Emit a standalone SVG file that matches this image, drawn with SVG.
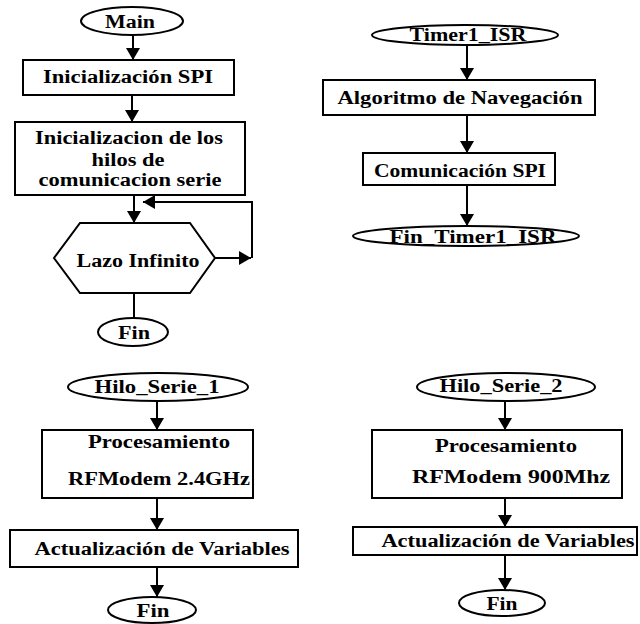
<svg xmlns="http://www.w3.org/2000/svg" width="640" height="624" viewBox="0 0 640 624" font-family="Liberation Serif, Times New Roman, serif">
  <defs>
    <marker id="arrow" markerUnits="userSpaceOnUse" markerWidth="12" markerHeight="14" viewBox="0 0 12 14" refX="12" refY="7" orient="auto">
      <path d="M0,0 L12,7 L0,14 Z" fill="#000"/>
    </marker>
  </defs>
  <style>
    .shape { fill: #fff; stroke: #000; stroke-width: 2; }
    .label { font-weight: 700; font-size: 18.5px; fill: #000; text-anchor: middle; }
    .edge { fill: none; stroke: #000; stroke-width: 2; }
    .edge.arr { marker-end: url(#arrow); }
  </style>
  <rect width="640" height="624" fill="#fff"/>

  <!-- Main flow -->
  <g id="main-start">
    <ellipse class="shape" cx="132" cy="21" rx="51" ry="14"/>
    <text class="label" x="130" y="28" textLength="50" lengthAdjust="spacingAndGlyphs">Main</text>
  </g>
  <g id="init-spi">
    <rect class="shape" x="23" y="60" width="211" height="35"/>
    <text class="label" x="128" y="83" textLength="170" lengthAdjust="spacingAndGlyphs">Inicialización SPI</text>
  </g>
  <g id="init-threads">
    <rect class="shape" x="15" y="122" width="230" height="73"/>
    <text class="label" x="129" y="144" textLength="188" lengthAdjust="spacingAndGlyphs">Inicializacion de los</text>
    <text class="label" x="128" y="166" textLength="73" lengthAdjust="spacingAndGlyphs">hilos de</text>
    <text class="label" x="130" y="186" textLength="183" lengthAdjust="spacingAndGlyphs">comunicacion serie</text>
  </g>
  <g id="loop">
    <polygon class="shape" points="80,223 190,223 215,258 190,293 80,293 54,258"/>
    <text class="label" x="138" y="267" textLength="123" lengthAdjust="spacingAndGlyphs">Lazo Infinito</text>
  </g>
  <g id="main-end">
    <ellipse class="shape" cx="133" cy="332" rx="35" ry="14"/>
    <text class="label" x="134" y="339" textLength="32" lengthAdjust="spacingAndGlyphs">Fin</text>
  </g>

  <!-- Timer interrupt flow -->
  <g id="timer-start">
    <ellipse class="shape" cx="465" cy="35" rx="93" ry="10"/>
    <text class="label" x="468" y="41" textLength="117" lengthAdjust="spacingAndGlyphs">Timer1_ISR</text>
  </g>
  <g id="navigation">
    <rect class="shape" x="323" y="80" width="272" height="35"/>
    <text class="label" x="460" y="104" textLength="245" lengthAdjust="spacingAndGlyphs">Algoritmo de Navegación</text>
  </g>
  <g id="spi-comm">
    <rect class="shape" x="363" y="153" width="192" height="32"/>
    <text class="label" x="460" y="177" textLength="172" lengthAdjust="spacingAndGlyphs">Comunicación SPI</text>
  </g>
  <g id="timer-end">
    <ellipse class="shape" cx="466" cy="236" rx="113" ry="10"/>
    <text class="label" x="473" y="243" textLength="167" lengthAdjust="spacingAndGlyphs">Fin_Timer1_ISR</text>
  </g>

  <!-- Serial thread 1 -->
  <g id="thread1-start">
    <ellipse class="shape" cx="158" cy="387" rx="90" ry="14"/>
    <text class="label" x="157" y="393" textLength="125" lengthAdjust="spacingAndGlyphs">Hilo_Serie_1</text>
  </g>
  <g id="thread1-proc">
    <rect class="shape" x="42" y="430" width="211" height="68"/>
    <text class="label" x="159" y="448" textLength="142" lengthAdjust="spacingAndGlyphs">Procesamiento</text>
    <text class="label" x="159" y="485" textLength="182" lengthAdjust="spacingAndGlyphs">RFModem 2.4GHz</text>
  </g>
  <g id="thread1-update">
    <rect class="shape" x="10" y="530" width="288" height="37"/>
    <text class="label" x="162" y="555" textLength="255" lengthAdjust="spacingAndGlyphs">Actualización de Variables</text>
  </g>
  <g id="thread1-end">
    <ellipse class="shape" cx="152" cy="610" rx="44" ry="13"/>
    <text class="label" x="153" y="617" textLength="33" lengthAdjust="spacingAndGlyphs">Fin</text>
  </g>

  <!-- Serial thread 2 -->
  <g id="thread2-start">
    <ellipse class="shape" cx="506" cy="387" rx="89" ry="14"/>
    <text class="label" x="501" y="392" textLength="123" lengthAdjust="spacingAndGlyphs">Hilo_Serie_2</text>
  </g>
  <g id="thread2-proc">
    <rect class="shape" x="372" y="430" width="250" height="68"/>
    <text class="label" x="506" y="452" textLength="142" lengthAdjust="spacingAndGlyphs">Procesamiento</text>
    <text class="label" x="511" y="483" textLength="198" lengthAdjust="spacingAndGlyphs">RFModem 900Mhz</text>
  </g>
  <g id="thread2-update">
    <rect class="shape" x="353" y="527" width="284" height="28"/>
    <text class="label" x="508" y="547" textLength="253" lengthAdjust="spacingAndGlyphs">Actualización de Variables</text>
  </g>
  <g id="thread2-end">
    <ellipse class="shape" cx="502" cy="603" rx="43" ry="13"/>
    <text class="label" x="502" y="610" textLength="31" lengthAdjust="spacingAndGlyphs">Fin</text>
  </g>

  <!-- Connectors -->
  <g id="connectors">
    <path class="edge arr" d="M133,35 L133,60"/>
    <path class="edge arr" d="M132,95 L132,122"/>
    <path class="edge arr" d="M134,195 L134,223"/>
    <path class="edge arr" d="M215,258 L251,258"/>
    <path class="edge arr" d="M252,258 L252,202 L143,202"/>
    <path class="edge" d="M134,293 L134,318"/>

    <path class="edge arr" d="M467,45 L467,80"/>
    <path class="edge arr" d="M467,115 L467,153"/>
    <path class="edge arr" d="M467,185 L467,226"/>

    <path class="edge arr" d="M157,401 L157,430"/>
    <path class="edge arr" d="M157,498 L157,530"/>
    <path class="edge arr" d="M157,567 L157,597"/>

    <path class="edge arr" d="M505,401 L505,430"/>
    <path class="edge arr" d="M505,498 L505,527"/>
    <path class="edge arr" d="M505,555 L505,590"/>
  </g>
</svg>
